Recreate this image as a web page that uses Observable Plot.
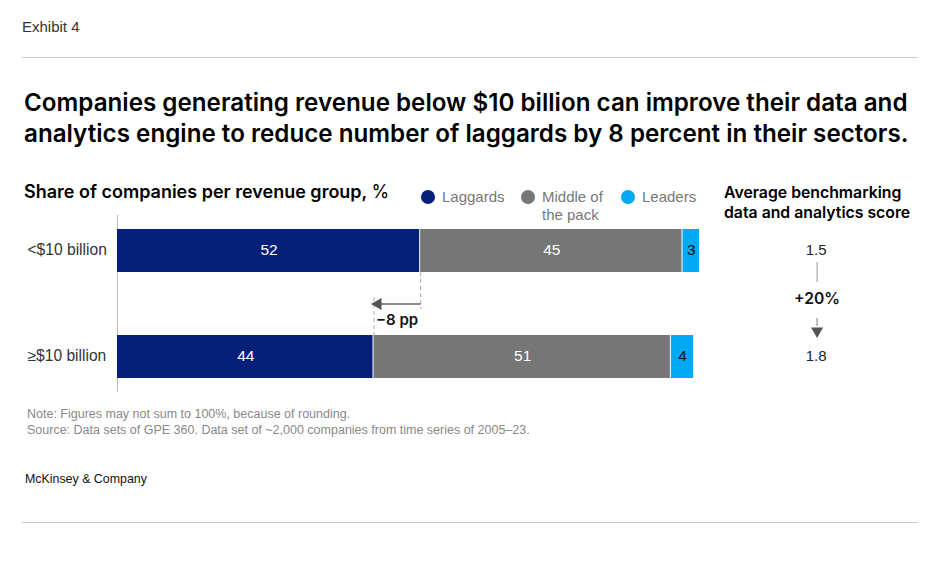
<!DOCTYPE html>
<html><head><meta charset="utf-8">
<script src="https://cdn.jsdelivr.net/npm/d3@7"></script>
<script src="https://cdn.jsdelivr.net/npm/@observablehq/plot@0.6"></script>
<style>
body{margin:0;background:#fff;width:936px;height:564px;position:relative;font-family:"Liberation Sans",Arial,sans-serif;color:#222;overflow:hidden}
.abs{position:absolute;white-space:nowrap}
.leg{position:absolute;font-size:15px;line-height:18px;color:#777}
.leg i{position:absolute;left:-21px;top:2px;width:14px;height:14px;border-radius:50%}
</style></head><body>
<div class="abs" style="left:22px;top:18px;font-size:15px;line-height:18px;color:#333">Exhibit 4</div>
<div class="abs" style="left:22px;top:57px;width:896px;height:1px;background:#ccc"></div>
<div class="abs" style="left:24px;top:87px;font-family:Inter,sans-serif;font-weight:600;font-size:24.2px;line-height:31px;color:#000">Companies generating revenue below $10 billion can improve their data and<br>analytics engine to reduce number of laggards by 8 percent in their sectors.</div>
<div class="abs" style="left:24px;top:181px;font-family:Inter,sans-serif;font-weight:600;font-size:18px;line-height:21px;color:#000">Share of companies per revenue group, <span style="font-weight:400">%</span></div>
<div id="legend"></div>
<div class="abs" style="left:724px;top:183px;font-family:Inter,sans-serif;font-weight:600;font-size:15.8px;line-height:20px;color:#000">Average benchmarking<br>data and analytics score</div>
<div id="chart" class="abs" style="left:0;top:215px"></div>
<div class="abs" style="left:27px;top:406px;font-size:12.5px;color:#888;line-height:16px">Note: Figures may not sum to 100%, because of rounding.<br>Source: Data sets of GPE 360. Data set of ~2,000 companies from time series of 2005–23.</div>
<div class="abs" style="left:25px;top:471px;font-size:12.4px;line-height:16px;color:#111">McKinsey &amp; Company</div>
<div class="abs" style="left:22px;top:522px;width:896px;height:1px;background:#ccc"></div>
<script>
const groups = ["<$10 billion", "≥$10 billion"];
const series = ["Laggards", "Middle of the pack", "Leaders"];
const legendLabels = ["Laggards", "Middle of<br>the pack", "Leaders"];
const colors = ["#061f79", "#767676", "#00a9f4"];
const laggards = [52, 44];
const middle = [45, 51];
const leaders = [3, 4];
const scores = ["1.5", "1.8"];
const scoreChange = "+20%";
const gapLabel = "−8 pp";

const values = [laggards, middle, leaders];
const rows = [];
groups.forEach((g, i) => series.forEach((s, j) => rows.push({group: g, series: s, value: values[j][i]})));

// legend
const legendLeft = [442, 542, 642];
document.getElementById("legend").innerHTML = series.map((s, j) =>
  `<div class="leg" style="left:${legendLeft[j]}px;top:188px"><i style="background:${colors[j]}"></i>${legendLabels[j]}</div>`).join("");

const GAP = " ";
const scoreX = 120;
const font = "Liberation Sans, Arial, sans-serif";
const chart = Plot.plot({
  width: 936, height: 177,
  marginLeft: 117, marginRight: 236, marginTop: 0, marginBottom: 0,
  x: {domain: [0, 100], axis: null},
  y: {domain: [groups[0], GAP, groups[1]], axis: null, paddingInner: 0.1852, paddingOuter: 0.2315},
  color: {domain: series, range: colors},
  style: {fontFamily: font, fontSize: "15px", overflow: "visible", background: "transparent"},
  marks: [
    Plot.ruleX([0], {stroke: "#bbb"}),
    Plot.barX(rows, Plot.stackX({x: "value", y: "group", fill: "series", insetRight: 1})),
    Plot.text(rows, {...Plot.stackX({x: "value", y: "group", text: "value"}), fill: "white", filter: d => d.series !== "Leaders", dy: -1, fontSize: 15.5}),
    Plot.text(rows, {...Plot.stackX({x: "value", y: "group", text: "value"}), fill: "#111", filter: d => d.series === "Leaders", dx: -0.5, dy: -1, fontSize: 15.5}),
    Plot.text(groups, {x: 0, y: d => d, text: d => d, textAnchor: "start", dx: -90, dy: -1, fill: "#333", fontSize: 15.6}),
    // -8 pp annotation
    Plot.tickX([laggards[0]], {x: d => d, y: () => GAP, insetTop: -10, insetBottom: 16, stroke: "#aaa", strokeDasharray: "4,3"}),
    Plot.tickX([laggards[1]], {x: d => d, y: () => GAP, insetTop: 15, insetBottom: -10, stroke: "#aaa", strokeDasharray: "4,3"}),
    Plot.link([laggards], {x1: d => d[0], x2: d => d[1] + 1, y1: () => GAP, y2: () => GAP, stroke: "#666", strokeWidth: 1.5}),
    Plot.dot([laggards[1]], {x: d => d, y: () => GAP, symbol: "triangle", rotate: -90, r: 4.5, fill: "#555", dx: 4}),
    Plot.text([gapLabel], {x: laggards[1], y: () => GAP, text: d => d, textAnchor: "start", dx: 2, dy: 16, fontWeight: 600, fill: "#111", fontFamily: "Inter, sans-serif", fontSize: 15}),
    // scores
    Plot.text(scores, {x: scoreX, y: (d, i) => groups[i], text: d => d, dx: -1, dy: -1, fill: "#222"}),
    Plot.tickX([scoreX], {x: d => d, y: () => GAP, insetTop: -20, insetBottom: 43, stroke: "#999"}),
    Plot.text([scoreChange], {x: scoreX, y: () => GAP, text: d => d, dy: -5, fontWeight: 600, fill: "#111", fontFamily: "Inter, sans-serif", fontSize: 15.7}),
    Plot.tickX([scoreX], {x: d => d, y: () => GAP, insetTop: 36, insetBottom: -1, stroke: "#777"}),
    Plot.dot([scoreX], {x: d => d, y: () => GAP, symbol: "triangle", rotate: 180, r: 4.5, fill: "#555", dy: 27})
  ]
});
document.getElementById("chart").appendChild(chart);
</script>
</body></html>
